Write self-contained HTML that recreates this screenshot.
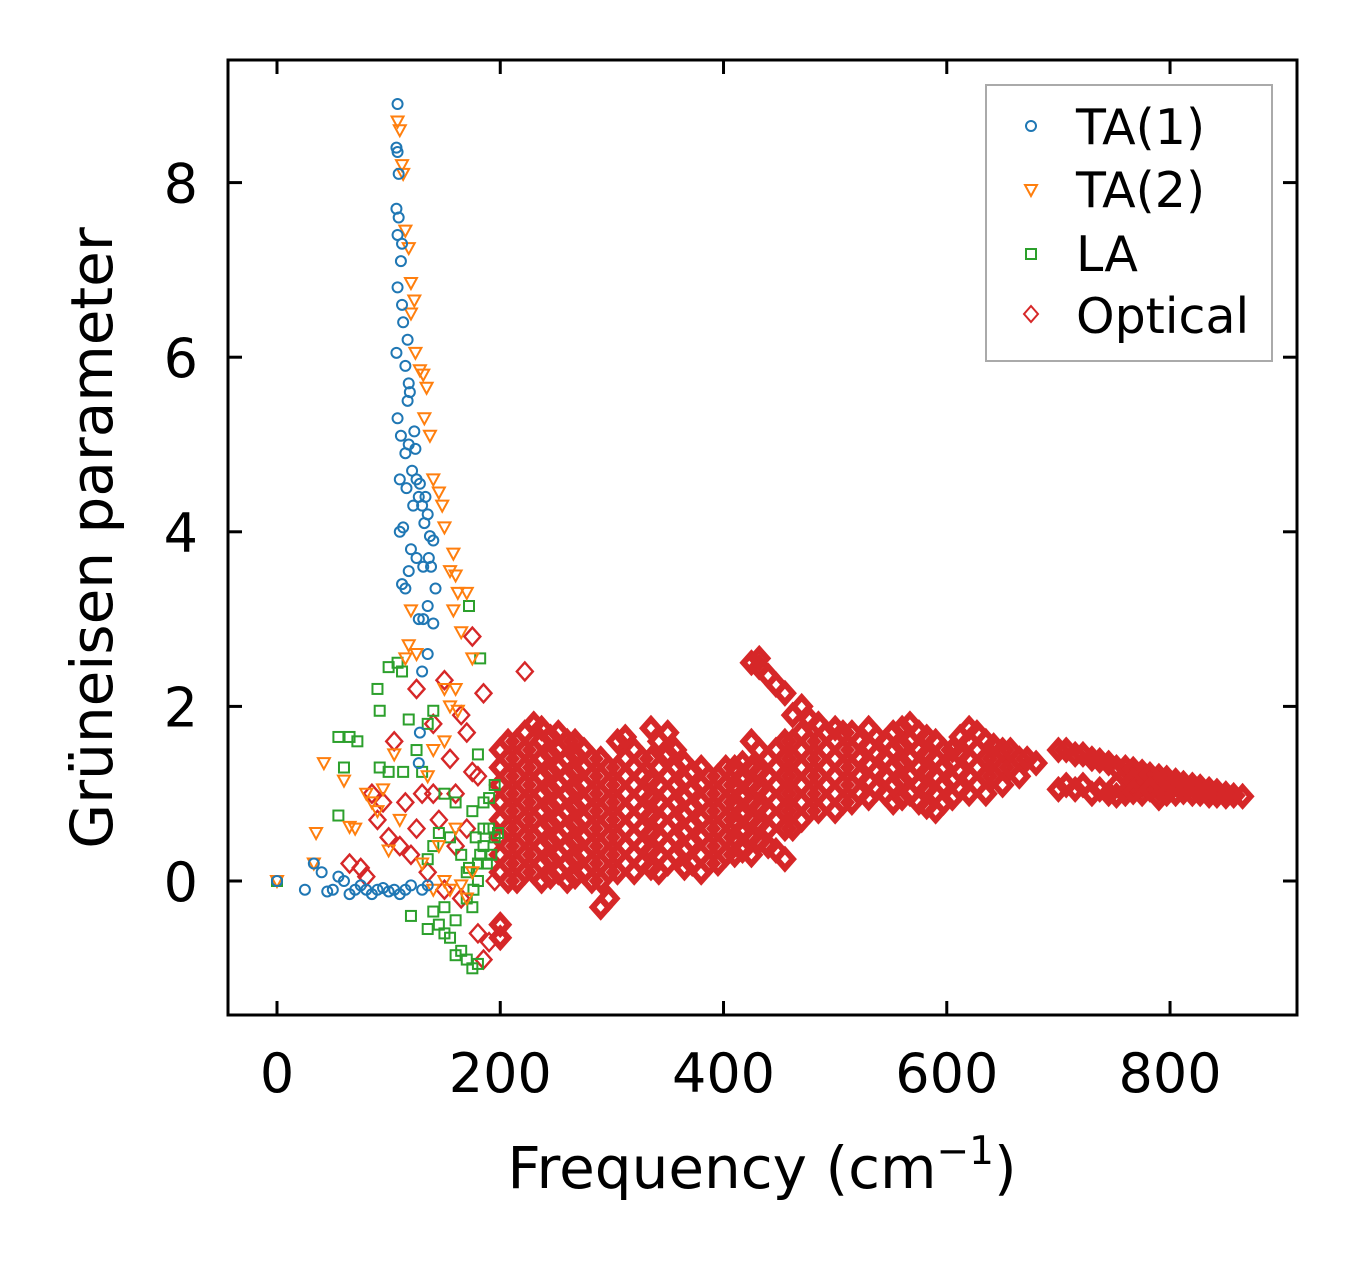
<!DOCTYPE html>
<html><head><meta charset="utf-8"><style>
body{margin:0;background:#fff}
svg{display:block;font-family:"DejaVu Sans","Liberation Sans",sans-serif}
</style></head><body>
<svg id="chart" width="1357" height="1264" viewBox="0 0 1357 1264">
<g id="marks"></g>
<rect x="228" y="60" width="1069" height="955" fill="none" stroke="#000" stroke-width="3"/>
<g id="axes"></g>
<text x="112" y="538" font-size="58" text-anchor="middle" transform="rotate(-90 112 538)">Grüneisen parameter</text>
<text x="762" y="1188" font-size="58" text-anchor="middle">Frequency (cm<tspan dy="-24" font-size="39">−1</tspan><tspan dy="24">)</tspan></text>
<g>
<rect x="986" y="85" width="286" height="276" fill="#fff" stroke="#aaa" stroke-width="2"/>
<circle cx="1031" cy="126" r="5" fill="none" stroke="#1f77b4" stroke-width="2"/>
<text x="1076" y="144" font-size="49">TA(1)</text>
<path d="M1025,185 L1037,185 L1031,196 Z" fill="none" stroke="#ff7f0e" stroke-width="2"/>
<text x="1076" y="207" font-size="49">TA(2)</text>
<rect x="1026" y="249" width="10" height="10" fill="none" stroke="#2ca02c" stroke-width="2"/>
<text x="1076" y="271" font-size="49">LA</text>
<path d="M1031,306 L1038,314 L1031,322 L1024,314 Z" fill="none" stroke="#d62728" stroke-width="2"/>
<text x="1076" y="333" font-size="49">Optical</text>
</g>
</svg>
<script>
const xTicks=[0,200,400,600,800];
const yTicks=[0,2,4,6,8];
const ta1X=[0,25,33,40,45,50,55,60,65,70,75,80,85,90,95,100,105,110,115,120,108,107,108,109,107,109,108,112,111,108,112,113,117,107,115,118,117,119,108,111,118,123,115,124,121,125,110,116,128,127,130,122,133,135,132,110,113,137,140,136,120,125,131,138,118,112,115,142,135,131,127,140,135,130,128,127,130,135];
const ta1Y=[0,-0.1,0.2,0.1,-0.12,-0.1,0.05,0,-0.15,-0.1,-0.05,-0.1,-0.15,-0.1,-0.08,-0.12,-0.1,-0.15,-0.1,-0.05,8.9,8.4,8.35,8.1,7.7,7.6,7.4,7.3,7.1,6.8,6.6,6.4,6.2,6.05,5.9,5.7,5.5,5.6,5.3,5.1,5.0,5.15,4.9,4.95,4.7,4.6,4.6,4.5,4.55,4.4,4.3,4.3,4.4,4.2,4.1,4.0,4.05,3.95,3.9,3.7,3.8,3.7,3.6,3.6,3.55,3.4,3.35,3.35,3.15,3.0,3.0,2.95,2.6,2.4,1.7,1.35,-0.1,-0.05];
const ta2X=[0,33,42,35,60,65,70,80,85,90,95,100,105,110,108,110,112,113,115,118,120,123,120,124,128,131,134,132,137,140,145,148,150,158,155,160,162,158,170,165,175,160,155,162,120,118,115,125,150,150,140,135,160,145,150,155,165,170,175,140,130];
const ta2Y=[0,0.2,1.35,0.55,1.15,0.62,0.6,1.0,0.9,0.8,1.05,0.35,1.45,0.7,8.7,8.6,8.2,8.1,7.45,7.25,6.85,6.65,6.5,6.05,5.85,5.8,5.65,5.3,5.1,4.6,4.45,4.3,4.05,3.75,3.55,3.5,3.3,3.1,3.3,2.85,2.55,2.2,2.0,1.95,3.1,2.7,2.55,2.6,2.2,1.6,1.5,1.2,0.6,0.4,0.0,-0.1,-0.05,-0.2,0.1,-0.1,0.2];
const laX=[0,55,65,72,55,60,90,92,100,108,112,92,100,118,125,130,113,140,135,182,172,180,150,160,175,185,190,195,192,188,198,185,180,170,165,155,145,140,135,120,135,140,145,150,155,160,165,170,175,180,175,170,160,150,195,190,185,178,180,182,176,172];
const laY=[0,1.65,1.65,1.6,0.75,1.3,2.2,1.95,2.45,2.5,2.4,1.3,1.25,1.85,1.5,1.25,1.25,1.95,1.8,2.55,3.15,1.45,1.0,0.9,0.8,0.9,0.6,0.5,0.3,0.2,0.55,0.4,0.2,0.1,0.3,0.5,0.55,0.4,0.25,-0.4,-0.55,-0.35,-0.5,-0.6,-0.65,-0.85,-0.8,-0.9,-1.0,-0.95,-0.3,-0.2,-0.45,-0.3,1.1,0.95,0.6,0.5,0.0,0.3,-0.1,0.15];
const optFreq=[200,215,230,245,260,275,290,305,320,335,350,365,380,395,410,425,440,455,470,485,500,515,530,545,560,575,590,605,620,635,650,665,680,700,715,730,745,760,775,790,805,820,835,850,865];
const optGamma=[[-0.65,-0.5,0.1,0.3,0.5,0.7,0.9,1.1,1.3,1.5],[0.0,0.2,0.4,0.6,0.8,1.0,1.2,1.4,1.6],[0.1,0.3,0.5,0.7,0.9,1.1,1.3,1.5,1.8],[0.05,0.25,0.45,0.65,0.85,1.05,1.25,1.45,1.65],[0.0,0.2,0.4,0.6,0.8,1.0,1.2,1.4,1.6],[0.1,0.3,0.5,0.7,0.9,1.1,1.3,1.5],[-0.3,0.0,0.2,0.4,0.6,0.8,1.0,1.2,1.4],[0.1,0.3,0.5,0.7,0.9,1.1,1.3,1.6],[0.1,0.3,0.5,0.7,0.9,1.1,1.3,1.5],[0.15,0.35,0.55,0.75,0.95,1.15,1.4,1.75],[0.2,0.4,0.6,0.8,1.0,1.2,1.45,1.7],[0.15,0.35,0.55,0.75,0.95,1.15,1.35],[0.1,0.3,0.5,0.7,0.9,1.1,1.3],[0.2,0.4,0.6,0.8,1.0,1.2],[0.3,0.5,0.7,0.9,1.1,1.3],[0.3,0.5,0.7,0.9,1.1,1.3,1.6,2.5],[0.4,0.6,0.8,1.0,1.2,1.4,2.35],[0.25,0.6,0.8,1.0,1.2,1.4,1.6,2.15],[0.7,0.9,1.1,1.3,1.5,1.7,2.0],[0.8,1.0,1.2,1.4,1.6,1.8],[0.8,1.0,1.2,1.4,1.6,1.75],[0.9,1.1,1.3,1.5,1.7],[0.95,1.15,1.35,1.55,1.75],[1.0,1.2,1.4,1.6],[0.95,1.15,1.35,1.55,1.75],[0.9,1.1,1.3,1.5,1.7],[0.8,1.0,1.2,1.4,1.6],[0.95,1.15,1.35,1.5],[1.0,1.2,1.4,1.6,1.75],[1.0,1.2,1.4,1.6],[1.1,1.3,1.5],[1.2,1.4],[1.35],[1.5,1.05],[1.45,1.05],[1.4,1.0],[1.35,1.0],[1.3,1.2,1.0],[1.25,1.1,1.0],[1.2,1.05,0.95],[1.15,1.0],[1.1,1.0],[1.05,0.98],[1.0,0.97],[0.97]];
const optFreq2=[207,222,237,252,267,282,297,312,327,342,357,372,387,402,417,432,447,462,477,492,507,522,537,552,567,582,597,612,627,642,657,672,707,722,737,752,767,782,797,812,827,842,857];
const optGamma2=[[0.0,0.2,0.4,0.6,0.8,1.0,1.2,1.4,1.6],[0.1,0.3,0.5,0.7,0.9,1.1,1.3,1.5,1.7],[0.0,0.2,0.4,0.6,0.8,1.0,1.2,1.4,1.6,1.75],[0.1,0.3,0.5,0.7,0.9,1.1,1.3,1.5,1.7],[0.05,0.25,0.45,0.65,0.85,1.05,1.25,1.45,1.6],[0.0,0.2,0.4,0.6,0.8,1.0,1.2,1.4],[-0.2,0.1,0.3,0.5,0.7,0.9,1.1,1.3],[0.2,0.4,0.6,0.8,1.0,1.2,1.4,1.65],[0.2,0.4,0.6,0.8,1.0,1.2,1.4],[0.1,0.3,0.5,0.7,0.9,1.1,1.3,1.6],[0.3,0.5,0.7,0.9,1.1,1.3,1.5],[0.2,0.45,0.65,0.85,1.05,1.25],[0.2,0.4,0.6,0.8,1.0,1.2],[0.3,0.5,0.7,0.9,1.1,1.3],[0.35,0.55,0.75,0.95,1.15,1.35],[0.45,0.65,0.85,1.05,1.25,1.5,2.45,2.55],[0.35,0.7,0.9,1.1,1.3,1.5,2.25],[0.6,0.8,1.0,1.2,1.4,1.6,1.9],[0.8,1.0,1.2,1.4,1.6,1.85],[0.9,1.1,1.3,1.5,1.7],[0.9,1.1,1.3,1.5,1.7],[1.0,1.2,1.4,1.6],[1.05,1.25,1.45,1.65],[0.9,1.1,1.3,1.5,1.7],[1.0,1.2,1.4,1.6,1.8],[0.85,1.05,1.25,1.45,1.65],[0.9,1.1,1.3,1.5],[1.05,1.25,1.45,1.65],[1.1,1.3,1.5,1.7],[1.2,1.4,1.55],[1.3,1.5],[1.4],[1.5,1.1],[1.45,1.1],[1.38,1.05],[1.3,1.1,0.98],[1.28,1.15,1.02],[1.22,1.05],[1.18,1.0],[1.12,1.02],[1.08,1.0],[1.03,0.98],[0.98]];
const optScatX=[65,75,80,85,90,95,100,105,110,115,120,125,130,135,140,145,150,155,160,165,170,175,180,185,190,195,222,160,170,180,185,150,140,125,175,165];
const optScatY=[0.2,0.15,0.05,1.0,0.7,0.9,0.5,1.6,0.4,0.9,0.3,2.2,1.0,0.1,1.8,0.7,2.3,1.4,0.4,-0.2,1.7,2.8,-0.6,2.15,-0.7,0.0,2.4,1.0,0.6,1.2,-0.9,-0.1,1.0,0.6,1.25,1.9];

const NS='http://www.w3.org/2000/svg';
function sx(v){return 277+v*1.1163;}
function sy(v){return 881-v*87.3;}
const marks=document.getElementById('marks');
const axes=document.getElementById('axes');
function mk(tag,attrs,parent){const e=document.createElementNS(NS,tag);for(const k in attrs)e.setAttribute(k,attrs[k]);parent.appendChild(e);return e;}

function diamond(x,y,w){
  const px=sx(x),py=sy(y);
  const e=mk('path',{d:`M${px},${py-9} L${px+8},${py} L${px},${py+9} L${px-8},${py} Z`,fill:'none',stroke:'#d62728','stroke-width':w},marks);
  
  
}
for(let i=0;i<optFreq.length;i++){for(const g of optGamma[i])diamond(optFreq[i],g,6);}
for(let i=0;i<optFreq2.length;i++){for(const g of optGamma2[i])diamond(optFreq2[i],g,6);}
for(let i=0;i<optScatX.length;i++)diamond(optScatX[i],optScatY[i],2.4);

for(let i=0;i<laX.length;i++){
  const e=mk('rect',{x:sx(laX[i])-5,y:sy(laY[i])-5,width:10,height:10,fill:'none',stroke:'#2ca02c','stroke-width':2},marks);
  
  
}
for(let i=0;i<ta2X.length;i++){
  const px=sx(ta2X[i]),py=sy(ta2Y[i]);
  const e=mk('path',{d:`M${px-6},${py-5} L${px+6},${py-5} L${px},${py+6} Z`,fill:'none',stroke:'#ff7f0e','stroke-width':2},marks);
  
  
}
for(let i=0;i<ta1X.length;i++){
  const e=mk('circle',{cx:sx(ta1X[i]),cy:sy(ta1Y[i]),r:5,fill:'none',stroke:'#1f77b4','stroke-width':2},marks);
  
  
}
for(const t of xTicks){
  const x=sx(t);
  const a=mk('line',{x1:x,x2:x,y1:1015,y2:1001,stroke:'#000','stroke-width':3},axes);
  
  
  const b=mk('line',{x1:x,x2:x,y1:60,y2:74,stroke:'#000','stroke-width':3},axes);
  
  
  const l=mk('text',{x:x,y:1092,'font-size':54,'text-anchor':'middle'},axes);
  l.textContent=t;
  
  
}
for(const t of yTicks){
  const y=sy(t);
  const a=mk('line',{x1:228,x2:242,y1:y,y2:y,stroke:'#000','stroke-width':3},axes);
  
  
  const b=mk('line',{x1:1283,x2:1297,y1:y,y2:y,stroke:'#000','stroke-width':3},axes);
  
  
  const l=mk('text',{x:198,y:y+20,'font-size':54,'text-anchor':'end'},axes);
  l.textContent=t;
  
  
}
</script>
</body></html>
